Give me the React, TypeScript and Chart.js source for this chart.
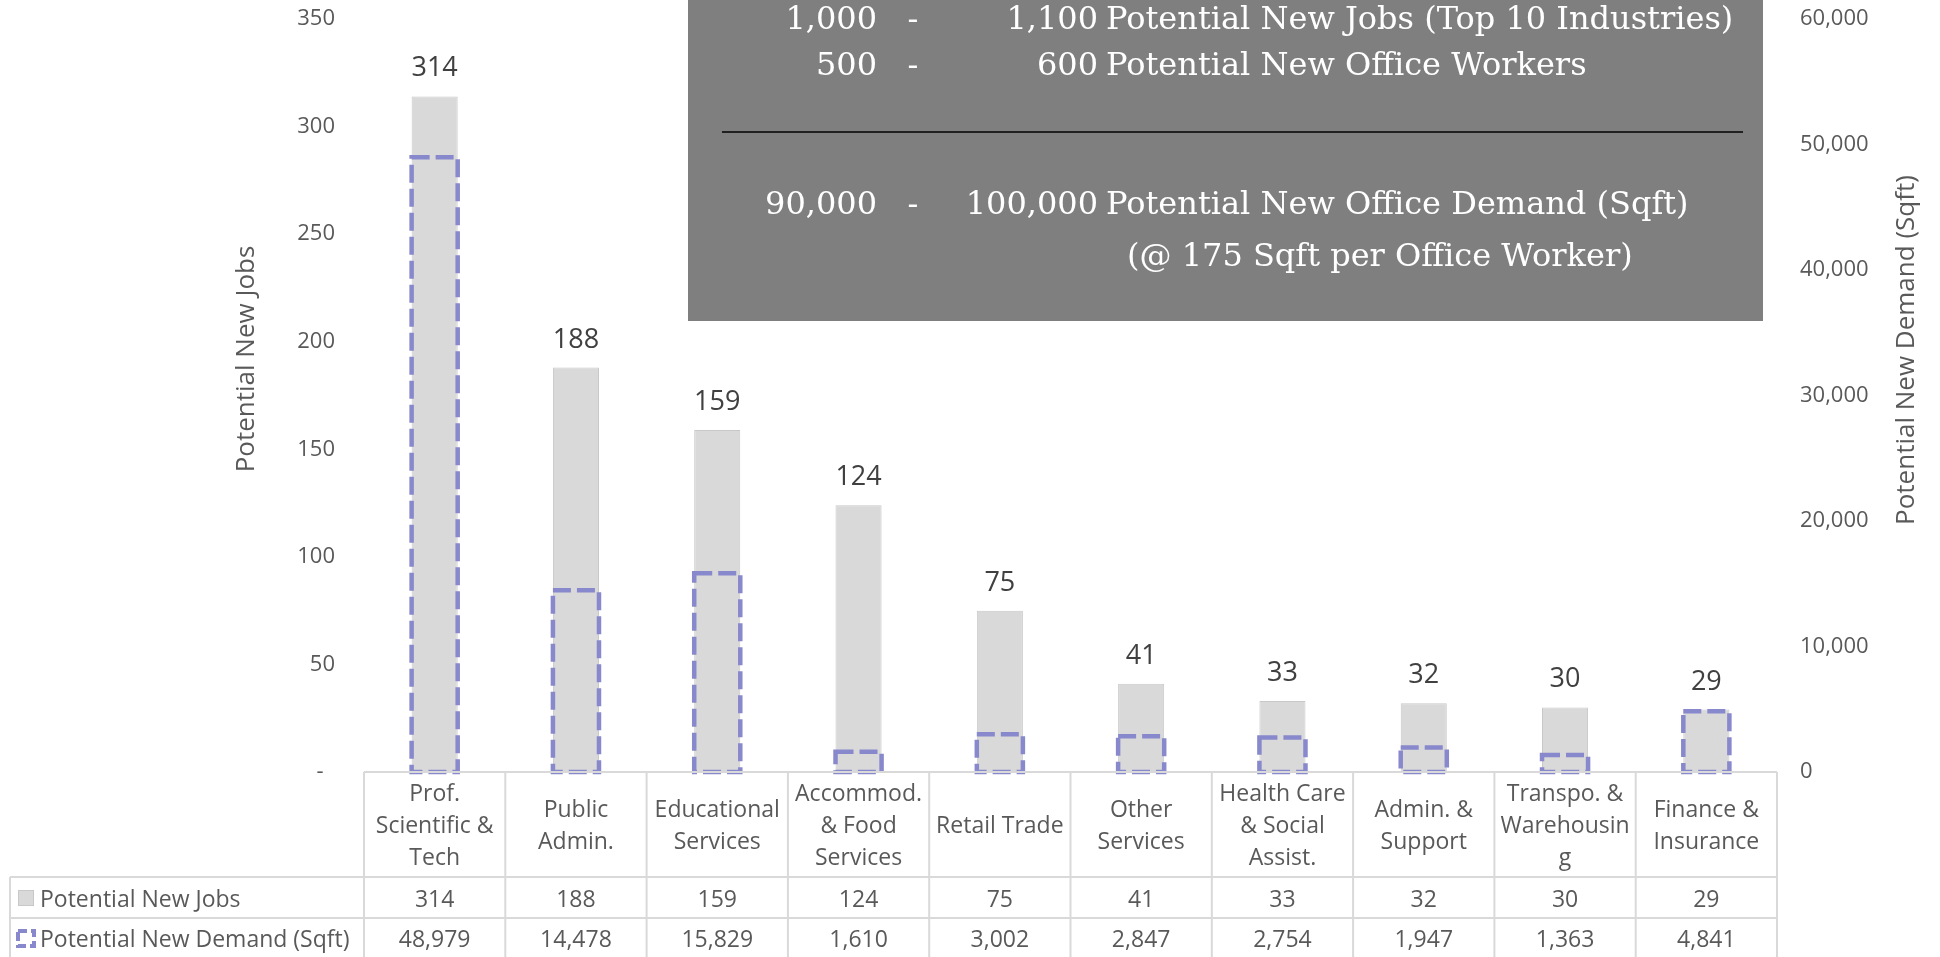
import React, { useEffect, useRef } from "react";
import { Chart, registerables } from "chart.js";

Chart.register(...registerables);

// ---------- data ----------
const categoryLines: string[][] = [
  ["Prof.", "Scientific &", "Tech"],
  ["Public", "Admin."],
  ["Educational", "Services"],
  ["Accommod.", "& Food", "Services"],
  ["Retail Trade"],
  ["Other", "Services"],
  ["Health Care", "& Social", "Assist."],
  ["Admin. &", "Support"],
  ["Transpo. &", "Warehousin", "g"],
  ["Finance &", "Insurance"],
];
const categories = categoryLines.map((l) => l.join(" "));
const jobs = [314, 188, 159, 124, 75, 41, 33, 32, 30, 29];
const demand = [48979, 14478, 15829, 1610, 3002, 2847, 2754, 1947, 1363, 4841];
const seriesNames = ["Potential New Jobs", "Potential New Demand (Sqft)"];
const leftAxisTitle = "Potential New Jobs";
const rightAxisTitle = "Potential New Demand (Sqft)";
const boxFrom = ["1,000", "500", "90,000"];
const boxTo = ["1,100", "600", "100,000"];
const boxLabels = [
  "Potential New Jobs (Top 10 Industries)",
  "Potential New Office Workers",
  "Potential New Office Demand (Sqft)",
];
const boxNote = "(@ 175 Sqft per Office Worker)";

// ---------- styles ----------
const TEXT = "#595959";
const LABEL = "#404040";
const BAR_FILL = "#d9d9d9";
const BAR_BORDER = "#c8c8c8";
const DASH = "#8888cc";
const GRID = "#d9d9d9";
const SANS = '"Open Sans"';
const SERIF = '"DejaVu Serif"';

const overlay = {
  id: "overlay",
  afterDatasetsDraw(chart: any) {
    const ctx = chart.ctx as CanvasRenderingContext2D;
    const m0 = chart.getDatasetMeta(0);
    const m1 = chart.getDatasetMeta(1);
    ctx.save();
    ctx.strokeStyle = DASH;
    ctx.lineWidth = 4.5;
    ctx.setLineDash([18, 6]);
    m1.data.forEach((el: any) => {
      const p = el.getProps(["x", "y", "base", "width"], true);
      ctx.strokeRect(p.x - p.width / 2, p.y, p.width, p.base - p.y);
    });
    ctx.setLineDash([]);
    ctx.fillStyle = LABEL;
    ctx.font = `27px ${SANS}`;
    ctx.textAlign = "center";
    ctx.textBaseline = "alphabetic";
    m0.data.forEach((el: any, i: number) => {
      const p = el.getProps(["x", "y"], true);
      ctx.fillText(String(jobs[i]), p.x, p.y - 20);
    });
    ctx.restore();
  },
  afterDraw(chart: any) {
    const ctx = chart.ctx as CanvasRenderingContext2D;
    const area = chart.chartArea;
    const xs = chart.scales.x;
    const n = categories.length;
    const colW = (area.right - area.left) / n;
    const top = area.bottom;
    const r1 = top + 105;
    const r2 = top + 146;
    const bottom = chart.height + 2;
    const legendLeft = 10;

    ctx.save();
    // table grid
    ctx.strokeStyle = GRID;
    ctx.lineWidth = 2;
    const line = (x1: number, y1: number, x2: number, y2: number) => {
      ctx.beginPath();
      ctx.moveTo(x1, y1);
      ctx.lineTo(x2, y2);
      ctx.stroke();
    };
    line(area.left, top, area.right, top);
    line(legendLeft, r1, area.right, r1);
    line(legendLeft, r2, area.right, r2);
    line(legendLeft, r1, legendLeft, bottom);
    for (let k = 0; k <= n; k++) {
      const x = k < n ? xs.getPixelForValue(k) - colW / 2 : xs.getPixelForValue(n - 1) + colW / 2;
      line(x, top, x, bottom);
    }

    // table text
    ctx.fillStyle = TEXT;
    ctx.font = `23px ${SANS}`;
    ctx.textAlign = "center";
    ctx.textBaseline = "alphabetic";
    const headCenter = (top + r1) / 2;
    categoryLines.forEach((lines, i) => {
      const cx = xs.getPixelForValue(i);
      lines.forEach((t, j) => {
        const cy = headCenter + (j - (lines.length - 1) / 2) * 32;
        ctx.fillText(t, cx, cy + 8);
      });
      ctx.fillText(jobs[i].toLocaleString("en-US"), cx, r1 + 30);
      ctx.fillText(demand[i].toLocaleString("en-US"), cx, r2 + 29);
    });
    // legend keys
    ctx.textAlign = "left";
    ctx.fillText(seriesNames[0], 40, r1 + 30);
    ctx.fillText(seriesNames[1], 40, r2 + 29);
    ctx.fillStyle = BAR_FILL;
    ctx.fillRect(18, r1 + 13, 16, 16);
    ctx.strokeStyle = BAR_BORDER;
    ctx.lineWidth = 1;
    ctx.strokeRect(18.5, r1 + 13.5, 15, 15);
    ctx.strokeStyle = DASH;
    ctx.lineWidth = 4;
    ctx.setLineDash([9, 4]);
    ctx.strokeRect(18, r2 + 13, 16, 15);
    ctx.setLineDash([]);

    // axis titles
    ctx.fillStyle = TEXT;
    ctx.font = `26px ${SANS}`;
    ctx.textAlign = "center";
    ctx.textBaseline = "middle";
    ctx.save();
    ctx.translate(247, 359);
    ctx.rotate(-Math.PI / 2);
    ctx.fillText(leftAxisTitle, 0, 0);
    ctx.restore();
    ctx.save();
    ctx.translate(1907, 350);
    ctx.rotate(-Math.PI / 2);
    ctx.fillText(rightAxisTitle, 0, 0);
    ctx.restore();

    // summary box
    ctx.fillStyle = "#7f7f7f";
    ctx.fillRect(688, 0, 1075, 321);
    ctx.strokeStyle = "#000000";
    ctx.lineWidth = 1.5;
    line(722, 132, 1743, 132);
    ctx.fillStyle = "#ffffff";
    ctx.font = `32px ${SERIF}`;
    ctx.textBaseline = "alphabetic";
    const baselines = [29, 75, 214];
    baselines.forEach((b, i) => {
      ctx.textAlign = "right";
      ctx.fillText(boxFrom[i], 877, b);
      ctx.fillText(boxTo[i], 1098, b);
      ctx.textAlign = "center";
      ctx.fillText("-", 913, b);
      ctx.textAlign = "left";
      ctx.fillText(boxLabels[i], 1106, b);
    });
    ctx.textAlign = "left";
    ctx.fillText(boxNote, 1127, 266);
    ctx.restore();
  },
};

export default function App() {
  const ref = useRef<HTMLCanvasElement | null>(null);
  useEffect(() => {
    document.body.style.margin = "0";
    if (!ref.current) return;
    const chart = new Chart(ref.current, {
      type: "bar",
      data: {
        labels: categories,
        datasets: [
          {
            label: seriesNames[0],
            data: jobs,
            yAxisID: "y",
            backgroundColor: BAR_FILL,
            borderColor: BAR_BORDER,
            borderWidth: 1,
            barPercentage: 0.326,
            categoryPercentage: 1,
            grouped: false,
            order: 2,
          } as any,
          {
            label: seriesNames[1],
            data: demand,
            yAxisID: "y1",
            backgroundColor: "rgba(0,0,0,0)",
            borderWidth: 0,
            barPercentage: 0.326,
            categoryPercentage: 1,
            grouped: false,
            order: 1,
          } as any,
        ],
      },
      options: {
        responsive: false,
        devicePixelRatio: 1,
        animation: false,
        layout: { padding: { top: 19, bottom: 185, left: 0, right: 0 } },
        plugins: { legend: { display: false }, tooltip: { enabled: false } },
        scales: {
          x: { display: false, offset: true },
          y: {
            position: "left",
            min: 0,
            max: 350,
            grid: { display: false, drawTicks: true, tickLength: 29 },
            border: { display: false },
            ticks: {
              stepSize: 50,
              padding: 0,
              color: TEXT,
              font: { family: "Open Sans", size: 22 },
              callback: (v: any) => (Number(v) === 0 ? "-  " : String(v)),
            },
            afterFit: (s: any) => {
              s.width = 364;
            },
          },
          y1: {
            position: "right",
            min: 0,
            max: 60000,
            grid: { display: false, drawTicks: true, tickLength: 23 },
            border: { display: false },
            ticks: {
              stepSize: 10000,
              padding: 0,
              color: TEXT,
              font: { family: "Open Sans", size: 22 },
              callback: (v: any) => Number(v).toLocaleString("en-US"),
            },
            afterFit: (s: any) => {
              s.width = 163;
            },
          },
        },
      },
      plugins: [overlay],
    });
    return () => chart.destroy();
  }, []);
  return (
    <div style={{ width: 1940, height: 957, position: "relative" }}>
      <canvas ref={ref} width={1940} height={957} style={{ display: "block" }} />
    </div>
  );
}
